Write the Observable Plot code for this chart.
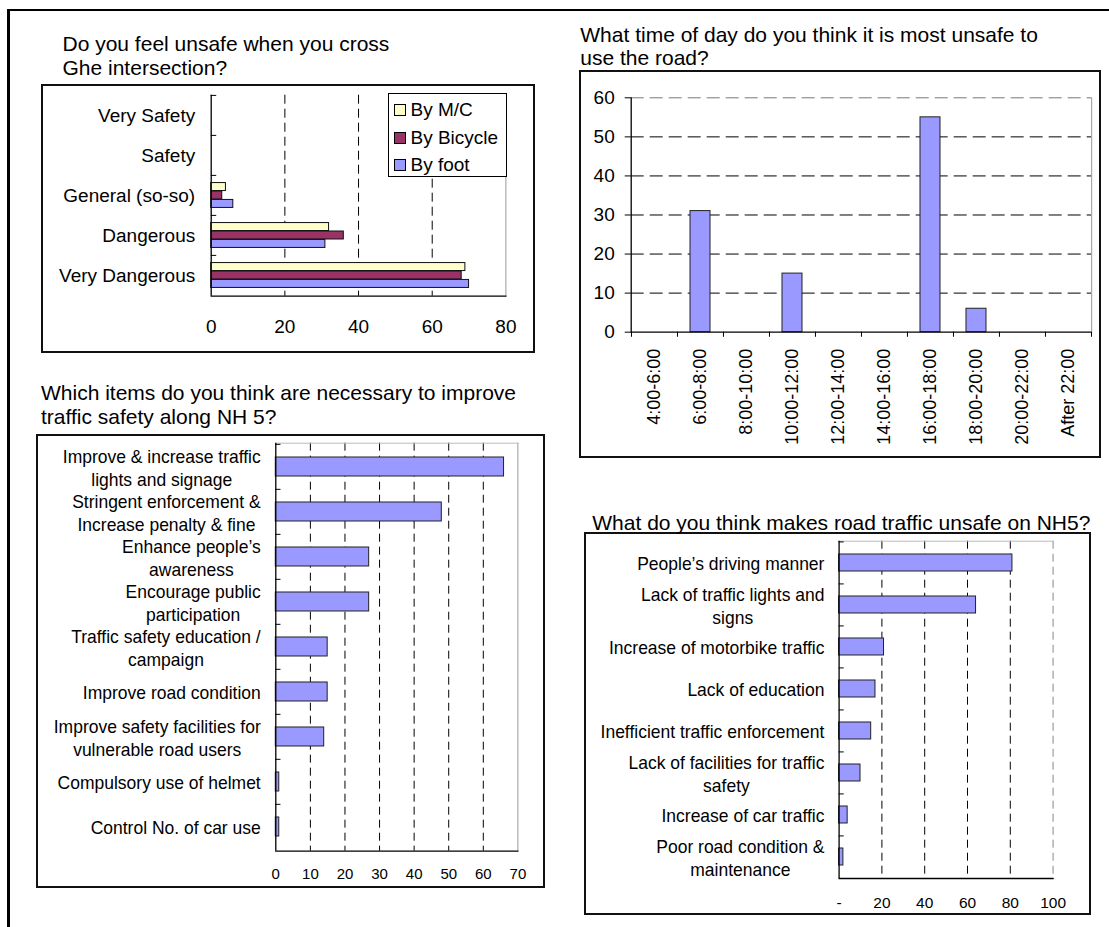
<!DOCTYPE html>
<html><head><meta charset="utf-8">
<script src="https://cdn.jsdelivr.net/npm/d3@7"></script>
<script src="https://cdn.jsdelivr.net/npm/@observablehq/plot@0.6"></script>
<style>
html,body{margin:0;padding:0;background:#fff;}
#page{position:relative;width:1109px;height:927px;overflow:hidden;font-family:"Liberation Sans",Arial,sans-serif;color:#000;background:#fff;}
.frame{position:absolute;border:2px solid #111;box-sizing:border-box;pointer-events:none;}
.title{position:absolute;font-size:21px;line-height:23.5px;white-space:nowrap;}
.legend{position:absolute;border:1px solid #000;background:#fff;box-sizing:border-box;font-size:19px;}
.legend .row{position:absolute;left:0;height:22px;line-height:22px;white-space:nowrap;}
.legend .sw{position:absolute;width:10px;height:10px;border:1px solid #000;top:5px;}
.legend .lab{position:absolute;}
.line{position:absolute;background:#000;}
svg{position:absolute;}
</style></head>
<body><div id="page"></div>
<script>
// ---------- DATA ----------
const safetyLevels = ["Very Safety", "Safety", "General (so-so)", "Dangerous", "Very Dangerous"];
const seriesNames = ["By M/C", "By Bicycle", "By foot"];
const seriesColors = ["#FFFFCC", "#993366", "#9999FF"];
const mcValues = [0, 0, 4, 32, 69];
const bicycleValues = [0, 0, 3, 36, 68];
const footValues = [0, 0, 6, 31, 70];
const safetyTicks = [0, 20, 40, 60, 80];

const timeSlots = ["4:00-6:00", "6:00-8:00", "8:00-10:00", "10:00-12:00", "12:00-14:00", "14:00-16:00", "16:00-18:00", "18:00-20:00", "20:00-22:00", "After 22:00"];
const timeCounts = [0, 31, 0, 15, 0, 0, 55, 6, 0, 0];
const timeTicks = [0, 10, 20, 30, 40, 50, 60];

const improveItems = [
  "Improve & increase traffic\nlights and signage",
  "Stringent enforcement &\nIncrease penalty & fine",
  "Enhance people\u2019s\nawareness",
  "Encourage public\nparticipation",
  "Traffic safety education /\ncampaign",
  "Improve road condition",
  "Improve safety facilities for\nvulnerable road users",
  "Compulsory use of helmet",
  "Control No. of car use"
];
const improveValues = [66, 48, 27, 27, 15, 15, 14, 1, 1];
const improveTicks = [0, 10, 20, 30, 40, 50, 60, 70];

const unsafeCauses = [
  "People\u2019s driving manner",
  "Lack of traffic lights and\nsigns",
  "Increase of motorbike traffic",
  "Lack of education",
  "Inefficient traffic enforcement",
  "Lack of facilities for traffic\nsafety",
  "Increase of car traffic",
  "Poor road condition &\nmaintenance"
];
const unsafeValues = [81, 64, 21, 17, 15, 10, 4, 2];
const unsafeTicks = [0, 20, 40, 60, 80, 100];

const titles = [
  "Do you feel unsafe when you cross<br>Ghe intersection?",
  "What time of day do you think it is most unsafe to<br>use the road?",
  "Which items do you think are necessary to improve<br>traffic safety along NH 5?",
  "What do you think makes road traffic unsafe on NH5?"
];

// ---------- HELPERS ----------
const FONT = "'Liberation Sans', Arial, sans-serif";
const page = document.getElementById("page");
function addDiv(cls, css, html) {
  const d = document.createElement("div");
  d.className = cls;
  Object.assign(d.style, css);
  if (html != null) d.innerHTML = html;
  page.appendChild(d);
  return d;
}
function place(svg, left, top) {
  svg.style.left = left + "px";
  svg.style.top = top + "px";
  page.appendChild(svg);
}
const ctx = document.createElement("canvas").getContext("2d");
function blockWidth(label, size) {
  ctx.font = size + "px " + FONT;
  return Math.max(...label.split("\n").map(s => ctx.measureText(s).width));
}
function styleFor(size) {
  return {fontFamily: FONT, fontSize: size + "px", background: "transparent", color: "#000", overflow: "visible"};
}

// outer frame lines
addDiv("line", {left: "7px", top: "8.5px", width: "1102px", height: "2.5px"});
addDiv("line", {left: "7px", top: "8.5px", width: "2.5px", height: "919px"});

// ---------- CHART 1 ----------
{
  const W = 493.6, H = 268.4, mL = 169.7, mR = 29.2, mT = 10.7, mB = 56.7;
  const step = (H - mT - mB) / safetyLevels.length;
  const bw = step * 0.21;
  const rows = safetyLevels.map((level, i) => ({level, mc: mcValues[i], bicycle: bicycleValues[i], foot: footValues[i]}));
  const keys = ["mc", "bicycle", "foot"];
  const chart = Plot.plot({
    width: W, height: H, marginLeft: mL, marginRight: mR, marginTop: mT, marginBottom: mB,
    style: styleFor(19),
    x: {domain: [0, 80], label: null},
    y: {domain: safetyLevels, paddingInner: 0.79, paddingOuter: 0.395, label: null},
    marks: [
      Plot.ruleX([20, 40, 60], {stroke: "#000", strokeWidth: 1, strokeDasharray: "9,5"}),
      Plot.ruleX([80], {stroke: "#999", strokeWidth: 1}),
      ...keys.map((k, j) => Plot.barX(rows.filter(d => d[k] > 0), {
        y: "level", x: k, fill: seriesColors[j], stroke: "#111", strokeWidth: 1, dy: (j - 1) * bw
      })),
      Plot.ruleY(safetyLevels, {y: d => d, x1: 0, x2: 1.5, dy: -step / 2, stroke: "#000"}),
      Plot.ruleX([0], {stroke: "#000", strokeWidth: 1.3}),
      Plot.frame({anchor: "bottom", stroke: "#000", strokeWidth: 1.3}),
      Plot.axisX({ticks: safetyTicks, tickSize: 0, tickPadding: 23, label: null}),
      Plot.axisY({tickSize: 0, tickPadding: 16, label: null})
    ]
  });
  place(chart, 41, 84.3);
  addDiv("frame", {left: "41px", top: "84.3px", width: W + "px", height: H + "px"});
  const lg = addDiv("legend", {left: "387.5px", top: "93.3px", width: "119px", height: "84px"});
  seriesNames.forEach((name, j) => {
    const r = document.createElement("div");
    r.className = "row";
    r.style.top = (5 + j * 27.5) + "px";
    r.innerHTML = `<div class="sw" style="left:5px;background:${seriesColors[j]}"></div><div class="lab" style="left:22px">${name}</div>`;
    lg.appendChild(r);
  });
  addDiv("title", {left: "62.5px", top: "32px"}, titles[0]);
}

// ---------- CHART 2 ----------
{
  const W = 521.7, H = 388.3, mL = 51.7, mR = 9.5, mT = 27.3, mB = 126.6;
  const step = (W - mL - mR) / timeSlots.length;
  const rows = timeSlots.map((slot, i) => ({slot, count: timeCounts[i]}));
  const chart = Plot.plot({
    width: W, height: H, marginLeft: mL, marginRight: mR, marginTop: mT, marginBottom: mB,
    style: styleFor(18.5),
    x: {domain: timeSlots, paddingInner: 0.574, paddingOuter: 0.287, label: null},
    y: {domain: [0, 60], label: null},
    marks: [
      Plot.ruleY([10, 20, 30, 40, 50], {stroke: "#000", strokeDasharray: "13,6"}),
      Plot.ruleY([60], {stroke: "#777", strokeDasharray: "13,6"}),
      Plot.frame({anchor: "right", stroke: "#999"}),
      Plot.barY(rows.filter(d => d.count > 0), {x: "slot", y: "count", fill: "#9999FF", stroke: "#222", strokeWidth: 1}),
      Plot.ruleY([0], {stroke: "#000", strokeWidth: 1.3}),
      Plot.frame({anchor: "left", stroke: "#000", strokeWidth: 1.3}),
      Plot.ruleX(timeSlots, {x: d => d, y1: 0, y2: -1.3, dx: -step / 2, stroke: "#000"}),
      Plot.ruleX(timeSlots.slice(-1), {x: d => d, y1: 0, y2: -1.3, dx: step / 2, stroke: "#000"}),
      Plot.axisY({ticks: timeTicks, tickSize: 6, tickPadding: 10.5, fontSize: 19, label: null}),
      Plot.axisX({tickRotate: -90, tickSize: 0, tickPadding: 16.5, fontSize: 18, label: null})
    ]
  });
  place(chart, 579.3, 70);
  addDiv("frame", {left: "579.3px", top: "70px", width: W + "px", height: H + "px"});
  addDiv("title", {left: "580.3px", top: "22.7px"}, titles[1]);
}

// ---------- CHART 3 ----------
{
  const W = 509.7, H = 454.3, mL = 239.3, mR = 28.3, mT = 8.7, mB = 37.6;
  const step = (H - mT - mB) / improveItems.length;
  const rows = improveItems.map((item, i) => ({item, value: improveValues[i]}));
  const LS = 17.5;
  const chart = Plot.plot({
    width: W, height: H, marginLeft: mL, marginRight: mR, marginTop: mT, marginBottom: mB,
    style: styleFor(15),
    x: {domain: [0, 70], label: null},
    y: {domain: improveItems, paddingInner: 0.574, paddingOuter: 0.287, axis: null, label: null},
    marks: [
      Plot.ruleX([10, 20, 30, 40, 50, 60], {stroke: "#000", strokeDasharray: "8,5"}),
      Plot.ruleX([70], {stroke: "#999"}),
      Plot.frame({anchor: "top", stroke: "#bbb"}),
      Plot.barX(rows, {y: "item", x: "value", fill: "#9999FF", stroke: "#222", strokeWidth: 1}),
      Plot.ruleY(improveItems, {y: d => d, x1: 0, x2: 1.5, dy: -step / 2, stroke: "#000"}),
      Plot.ruleX([0], {stroke: "#000", strokeWidth: 1.3}),
      Plot.frame({anchor: "bottom", stroke: "#000", strokeWidth: 1.3}),
      ...improveItems.map(item => Plot.text([item], {
        y: d => d, text: d => d, frameAnchor: "left", textAnchor: "middle",
        dx: -(15 + blockWidth(item, LS) / 2), fontSize: LS, lineHeight: 1.3
      })),
      Plot.axisX({ticks: improveTicks, tickSize: 0, tickPadding: 17, label: null})
    ]
  });
  place(chart, 35.7, 434);
  addDiv("frame", {left: "35.7px", top: "434px", width: W + "px", height: H + "px"});
  addDiv("title", {left: "41px", top: "381px"}, titles[2]);
}

// ---------- CHART 4 ----------
{
  const W = 506.4, H = 382.7, mL = 254.6, mR = 37.8, mT = 8.7, mB = 36.7;
  const step = (H - mT - mB) / unsafeCauses.length;
  const rows = unsafeCauses.map((cause, i) => ({cause, value: unsafeValues[i]}));
  const LS = 17.5;
  const chart = Plot.plot({
    width: W, height: H, marginLeft: mL, marginRight: mR, marginTop: mT, marginBottom: mB,
    style: styleFor(15.5),
    x: {domain: [0, 100], label: null},
    y: {domain: unsafeCauses, paddingInner: 0.605, paddingOuter: 0.3025, axis: null, label: null},
    marks: [
      Plot.ruleX([20, 40, 60, 80], {stroke: "#000", strokeDasharray: "8,5"}),
      Plot.ruleX([100], {stroke: "#888", strokeDasharray: "8,5"}),
      Plot.frame({anchor: "top", stroke: "#bbb"}),
      Plot.barX(rows, {y: "cause", x: "value", fill: "#9999FF", stroke: "#222", strokeWidth: 1}),
      Plot.ruleY(unsafeCauses, {y: d => d, x1: 0, x2: 2.4, dy: -step / 2, stroke: "#000"}),
      Plot.ruleX([0], {stroke: "#000", strokeWidth: 1.3}),
      Plot.frame({anchor: "bottom", stroke: "#000", strokeWidth: 1.3}),
      ...unsafeCauses.map(cause => Plot.text([cause], {
        y: d => d, text: d => d, frameAnchor: "left", textAnchor: "middle",
        dx: -(14.6 + blockWidth(cause, LS) / 2), fontSize: LS, lineHeight: 1.3
      })),
      Plot.axisX({ticks: unsafeTicks, tickSize: 0, tickPadding: 18, label: null, tickFormat: d => d === 0 ? "-" : String(d)})
    ]
  });
  place(chart, 584.4, 532.3);
  addDiv("frame", {left: "584.4px", top: "532.3px", width: W + "px", height: H + "px"});
  addDiv("title", {left: "592.3px", top: "511px"}, titles[3]);
}
</script>
</body></html>
